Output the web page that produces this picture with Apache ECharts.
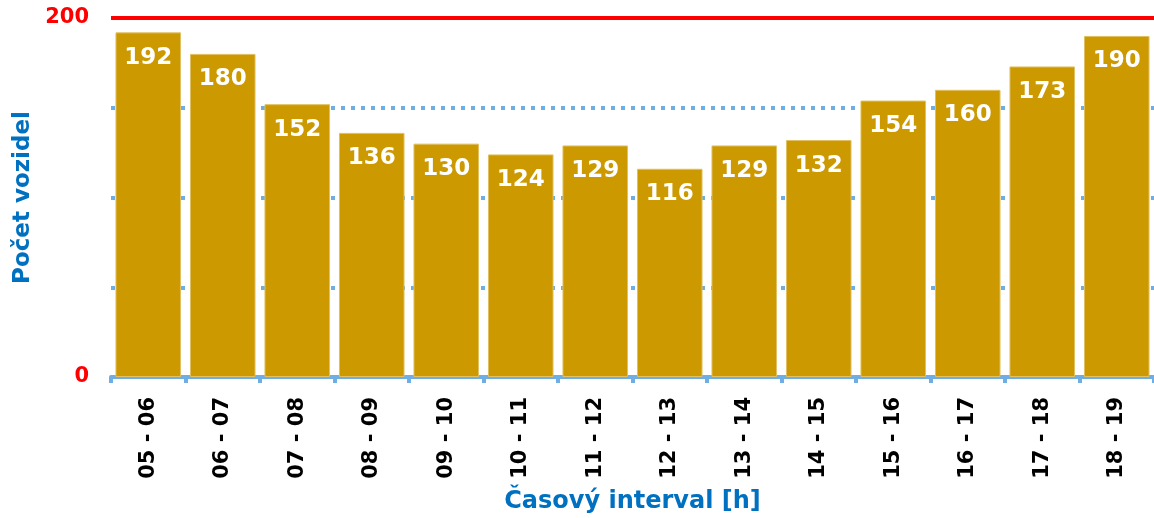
<!DOCTYPE html>
<html>
  <head>
    <meta charset="utf-8" />
    <title>Počet vozidel</title>
    <style>
      html, body { margin: 0; padding: 0; background: #fff; }
      #main { width: 1154px; height: 518px; }
    </style>
  </head>
  <body>
    <script src="https://cdn.jsdelivr.net/npm/echarts@6/dist/echarts.min.js"></script>
    <div id="main"></div>
    <script>
      var intervals = ["05 - 06", "06 - 07", "07 - 08", "08 - 09", "09 - 10", "10 - 11", "11 - 12",
                       "12 - 13", "13 - 14", "14 - 15", "15 - 16", "16 - 17", "17 - 18", "18 - 19"];
      var vehicles = [192, 180, 152, 136, 130, 124, 129, 116, 129, 132, 154, 160, 173, 190];
      var yShownTicks = [0, 200];
      var limitValue = 200;

      var font = "DejaVu Sans";
      var chart = echarts.init(document.getElementById("main"));

      var option = {
        animation: false,
        textStyle: { fontFamily: font },
        grid: { left: 111, right: 0, top: 18, bottom: 141, outerBoundsMode: "none", containLabel: false },
        xAxis: {
          type: "category",
          data: intervals,
          name: "Časový interval [h]",
          nameLocation: "middle",
          nameGap: 113,
          nameTextStyle: { color: "#0070C0", fontWeight: "bold", fontSize: 24, fontFamily: font },
          axisLine: { lineStyle: { color: "#6FAEE4", width: 4 } },
          axisTick: { show: true, length: 6, lineStyle: { color: "#6FAEE4", width: 4 } },
          axisLabel: {
            rotate: 90,
            color: "#000",
            fontWeight: "bold",
            fontSize: 21,
            fontFamily: font,
            margin: 20
          }
        },
        yAxis: {
          type: "value",
          min: 0,
          max: 200,
          interval: 50,
          name: "Počet vozidel",
          nameLocation: "middle",
          nameGap: 76,
          nameRotate: 90,
          nameTextStyle: { color: "#0070C0", fontWeight: "bold", fontSize: 23, fontFamily: font },
          axisLine: { show: false },
          axisTick: { show: false },
          axisLabel: {
            color: "#FF0000",
            fontWeight: "bold",
            fontSize: 21,
            fontFamily: font,
            margin: 22,
            formatter: function (v) { return yShownTicks.indexOf(v) >= 0 ? String(v) : ""; }
          },
          splitLine: {
            show: true,
            lineStyle: { color: "#6FAEE4", width: 4, type: [4, 6] }
          }
        },
        series: [
          {
            type: "bar",
            data: vehicles,
            barCategoryGap: "12%",
            itemStyle: { color: "#CC9900", borderColor: "#E0C060", borderWidth: 1 },
            label: {
              show: true,
              position: "insideTop",
              distance: 14,
              color: "#fff",
              fontWeight: "bold",
              fontSize: 23,
              fontFamily: font
            },
            markLine: {
              silent: true,
              symbol: "none",
              label: { show: false },
              lineStyle: { color: "#FF0000", width: 4, type: "solid" },
              data: [{ yAxis: limitValue }]
            }
          }
        ]
      };

      chart.setOption(option);
    </script>
  </body>
</html>
